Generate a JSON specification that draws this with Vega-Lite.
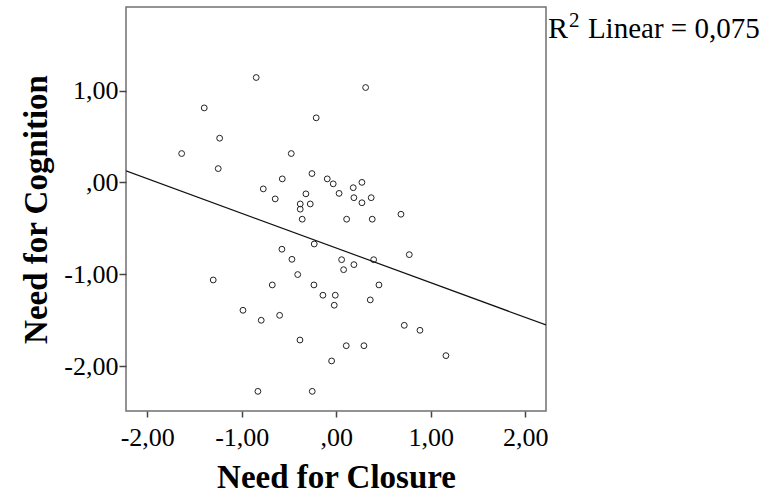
{
  "$schema": "https://vega.github.io/schema/vega-lite/v6.json",
  "width": 420,
  "height": 404,
  "autosize": "none",
  "padding": {"left": 126, "top": 7, "right": 221, "bottom": 83},
  "background": "white",
  "config": {
    "font": "Liberation Serif",
    "view": {"stroke": "#707070", "strokeWidth": 1.5},
    "axis": {
      "grid": false,
      "domain": false,
      "tickColor": "#444",
      "tickWidth": 1.5,
      "labelColor": "#000",
      "labelFont": "Liberation Serif",
      "labelFontSize": 26,
      "titleFont": "Liberation Serif",
      "titleFontSize": 33,
      "titleFontWeight": "bold",
      "titleColor": "#000"
    }
  },
  "datasets": {
    "points": [
      {"closure": -0.847, "cognition": 1.142},
      {"closure": -1.397, "cognition": 0.811},
      {"closure": -0.212, "cognition": 0.703},
      {"closure": -1.234, "cognition": 0.481},
      {"closure": -1.636, "cognition": 0.314},
      {"closure": -0.476, "cognition": 0.314},
      {"closure": -1.249, "cognition": 0.150},
      {"closure": -0.257, "cognition": 0.096},
      {"closure": -0.571, "cognition": 0.038},
      {"closure": -0.095, "cognition": 0.038},
      {"closure": -0.032, "cognition": -0.016},
      {"closure": -0.772, "cognition": -0.071},
      {"closure": -0.321, "cognition": -0.125},
      {"closure": 0.030, "cognition": -0.120},
      {"closure": -0.646, "cognition": -0.180},
      {"closure": -0.381, "cognition": -0.235},
      {"closure": -0.275, "cognition": -0.235},
      {"closure": -0.381, "cognition": -0.292},
      {"closure": -0.360, "cognition": -0.401},
      {"closure": 0.311, "cognition": 1.033},
      {"closure": 0.272, "cognition": 0.0},
      {"closure": 0.180, "cognition": -0.058},
      {"closure": 0.187, "cognition": -0.167},
      {"closure": 0.370, "cognition": -0.167},
      {"closure": 0.272, "cognition": -0.222},
      {"closure": 0.110, "cognition": -0.401},
      {"closure": 0.381, "cognition": -0.401},
      {"closure": 0.685, "cognition": -0.347},
      {"closure": 0.773, "cognition": -0.787},
      {"closure": 0.057, "cognition": -0.842},
      {"closure": 0.396, "cognition": -0.842},
      {"closure": 0.187, "cognition": -0.896},
      {"closure": 0.078, "cognition": -0.951},
      {"closure": 0.452, "cognition": -1.117},
      {"closure": -0.010, "cognition": -1.229},
      {"closure": 0.360, "cognition": -1.280},
      {"closure": -0.021, "cognition": -1.338},
      {"closure": 0.720, "cognition": -1.557},
      {"closure": 0.886, "cognition": -1.611},
      {"closure": 0.106, "cognition": -1.779},
      {"closure": 0.293, "cognition": -1.779},
      {"closure": -0.049, "cognition": -1.945},
      {"closure": 1.161, "cognition": -1.887},
      {"closure": -0.233, "cognition": -0.671},
      {"closure": -0.575, "cognition": -0.728},
      {"closure": -0.469, "cognition": -0.838},
      {"closure": -0.408, "cognition": -1.004},
      {"closure": -1.302, "cognition": -1.063},
      {"closure": -0.677, "cognition": -1.117},
      {"closure": -0.236, "cognition": -1.117},
      {"closure": -0.141, "cognition": -1.229},
      {"closure": -0.987, "cognition": -1.393},
      {"closure": -0.794, "cognition": -1.502},
      {"closure": -0.599, "cognition": -1.448},
      {"closure": -0.384, "cognition": -1.717},
      {"closure": -0.829, "cognition": -2.276},
      {"closure": -0.254, "cognition": -2.276}
    ],
    "fit": [
      {"closure": -2.225, "cognition": 0.125},
      {"closure": 2.22, "cognition": -1.553}
    ],
    "note": [
      {"r": "R", "sup": "2", "rest": "Linear = 0,075"}
    ]
  },
  "layer": [
    {
      "data": {"name": "points"},
      "mark": {"type": "point", "shape": "circle", "filled": false, "size": 34, "stroke": "#222", "strokeWidth": 1, "opacity": 1},
      "encoding": {
        "x": {
          "field": "closure", "type": "quantitative",
          "scale": {"domain": [-2.225, 2.22], "nice": false, "zero": false},
          "axis": {
            "values": [-2, -1, 0, 1, 2],
            "tickSize": 6,
            "labelPadding": 7,
            "labelExpr": "datum.value == 0 ? ',00' : (datum.value < 0 ? '-' : '') + replace(format(abs(datum.value), '.2f'), '.', ',')",
            "title": "Need for Closure",
            "titlePadding": 11
          }
        },
        "y": {
          "field": "cognition", "type": "quantitative",
          "scale": {"domain": [-2.49, 1.91], "nice": false, "zero": false},
          "axis": {
            "values": [-2, -1, 0, 1],
            "tickSize": 7,
            "labelPadding": 1,
            "labelExpr": "datum.value == 0 ? ',00' : (datum.value < 0 ? '-' : '') + replace(format(abs(datum.value), '.2f'), '.', ',')",
            "title": "Need for Cognition",
            "titlePadding": 10
          }
        }
      }
    },
    {
      "data": {"name": "fit"},
      "mark": {"type": "line", "color": "#111", "strokeWidth": 1.2, "clip": true},
      "encoding": {
        "x": {"field": "closure", "type": "quantitative"},
        "y": {"field": "cognition", "type": "quantitative"}
      }
    },
    {
      "data": {"name": "note"},
      "layer": [
        {
          "mark": {"type": "text", "align": "left", "baseline": "alphabetic", "fontSize": 30, "font": "Liberation Serif", "color": "#000", "clip": false},
          "encoding": {"x": {"datum": 2.24}, "y": {"datum": 1.571}, "text": {"field": "r"}}
        },
        {
          "mark": {"type": "text", "align": "left", "baseline": "alphabetic", "fontSize": 21, "font": "Liberation Serif", "color": "#000", "clip": false, "dx": 21, "dy": -11},
          "encoding": {"x": {"datum": 2.24}, "y": {"datum": 1.571}, "text": {"field": "sup"}}
        },
        {
          "mark": {"type": "text", "align": "left", "baseline": "alphabetic", "fontSize": 29, "font": "Liberation Serif", "color": "#000", "clip": false, "dx": 40},
          "encoding": {"x": {"datum": 2.24}, "y": {"datum": 1.571}, "text": {"field": "rest"}}
        }
      ]
    }
  ]
}
